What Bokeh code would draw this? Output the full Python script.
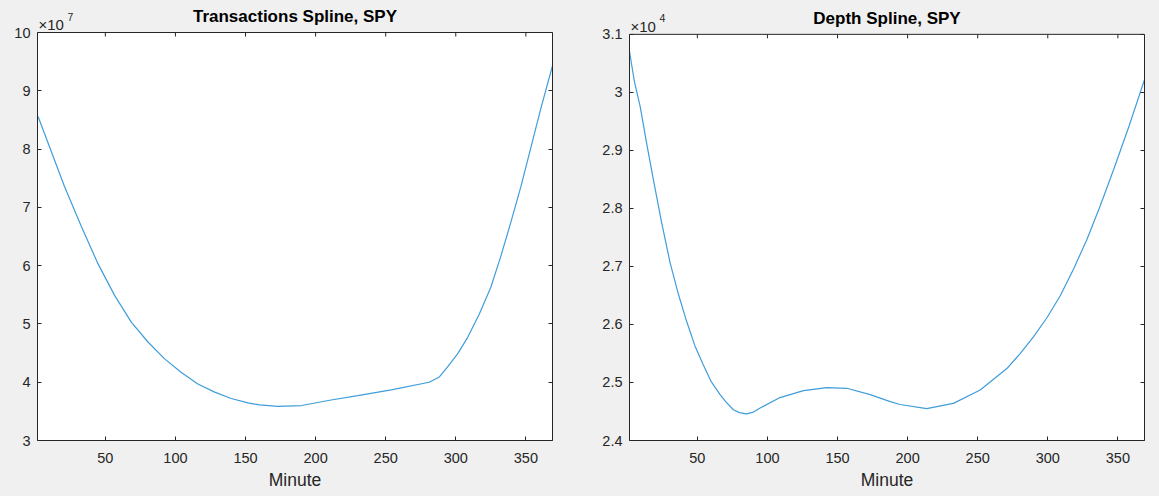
import math
from bokeh.plotting import figure
from bokeh.layouts import row
from bokeh.models import LinearAxis, FixedTicker, CustomJSTickFormatter, Range1d
from bokeh.core.properties import value
from bokeh.embed import file_html
from bokeh.resources import INLINE

# ---- data ----
trans_minute = [2, 21, 32.9, 44.8, 56.6, 68.5, 80.4, 92.3, 104, 116, 128, 139.8, 151.7, 160, 173, 190, 210, 230,
                254, 281, 288.3, 294, 301.4, 308.5, 316.8, 325, 332, 339, 346.4, 353.6, 360.6, 369]
trans_value = [8.56e7, 7.35e7, 6.67e7, 6.03e7, 5.49e7, 5.03e7, 4.69e7, 4.40e7, 4.17e7, 3.97e7, 3.83e7, 3.72e7,
               3.645e7, 3.61e7, 3.585e7, 3.60e7, 3.69e7, 3.77e7, 3.87e7, 4.00e7, 4.09e7, 4.26e7, 4.49e7,
               4.77e7, 5.17e7, 5.63e7, 6.15e7, 6.72e7, 7.35e7, 8.03e7, 8.69e7, 9.43e7]

depth_minute = [1.5, 5, 9.2, 14, 18.6, 24.5, 30.5, 36.5, 42.4, 48.3, 54.3, 60, 66.2, 70.5, 75.7, 80, 85, 90,
                94.8, 109, 125.7, 142.4, 156.6, 173.3, 187.6, 194.6, 213.6, 232.7, 251.8, 270.8, 280, 289.9,
                299.5, 309, 318.5, 328, 337.5, 347, 358, 369]
depth_value = [30720, 30200, 29760, 29100, 28500, 27760, 27070, 26520, 26050, 25630, 25300, 25010, 24790, 24660,
               24530, 24480, 24460, 24490, 24560, 24740, 24860, 24910, 24900, 24790, 24670, 24620, 24550, 24640,
               24870, 25240, 25490, 25790, 26120, 26500, 26960, 27470, 28050, 28670, 29420, 30220]

x_ticks = [50, 100, 150, 200, 250, 300, 350]
trans_y_ticks = [3e7, 4e7, 5e7, 6e7, 7e7, 8e7, 9e7, 1e8]
depth_y_ticks = [24000, 25000, 26000, 27000, 28000, 29000, 30000, 31000]

titles = ["Transactions Spline, SPY", "Depth Spline, SPY"]
exponents = ["7", "4"]
x_label = "Minute"
x_lim = (1.6, 369)

FONT = "Liberation Sans"
AX = "#262626"
BG = "#f0f0f0"
LINE = "#3f9ddb"


def style_axis(ax, show_labels):
    ax.axis_line_color = AX
    ax.major_tick_in = 4
    ax.major_tick_out = 0
    ax.major_tick_line_color = AX
    ax.minor_tick_line_color = None
    ax.major_label_text_font = FONT
    ax.major_label_text_font_size = "14.5px"
    ax.major_label_text_color = AX
    if not show_labels:
        ax.formatter = CustomJSTickFormatter(code="return '';")
        ax.major_label_standoff = 0


def make(xs, ys, y_ticks, ylim, scale, title, expo, width, borders, top_px, frame_px):
    bl, br, bb = borders
    y0, y1 = ylim
    # frame runs to the top of the canvas; the box itself ends at y1
    y_top = y1 + (y1 - y0) * top_px / frame_px
    p = figure(width=width, height=496, x_range=Range1d(*x_lim), y_range=Range1d(y0, y_top),
               output_backend="svg", toolbar_location=None,
               min_border_left=bl, min_border_right=br, min_border_top=0, min_border_bottom=bb)
    p.background_fill_color = BG
    p.border_fill_color = BG
    p.outline_line_color = None
    p.grid.visible = False

    # white axes box
    p.quad(left=[x_lim[0]], right=[x_lim[1]], bottom=[y0], top=[y1],
           fill_color="white", line_color=AX, line_width=1)

    xa = p.xaxis[0]
    xa.ticker = FixedTicker(ticks=x_ticks)
    style_axis(xa, True)
    xa.major_label_standoff = 12
    xa.axis_label = x_label
    xa.axis_label_text_font = FONT
    xa.axis_label_text_font_size = "17.5px"
    xa.axis_label_text_font_style = "normal"
    xa.axis_label_text_color = AX
    xa.axis_label_standoff = 4

    ya = p.yaxis[0]
    ya.ticker = FixedTicker(ticks=y_ticks)
    ya.bounds = (y0, y1)
    style_axis(ya, True)
    ya.major_label_standoff = 7
    ya.formatter = CustomJSTickFormatter(code="return String(Math.round(tick / %g * 10) / 10);" % scale)

    right = LinearAxis(ticker=FixedTicker(ticks=y_ticks), bounds=(y0, y1))
    style_axis(right, False)
    p.add_layout(right, "right")

    # inward ticks along the top edge of the box
    p.ray(x=x_ticks, y=[y1] * len(x_ticks), length=4, length_units="screen",
          angle=-math.pi / 2, line_color=AX, line_width=1)

    p.line(xs, ys, line_color=LINE, line_width=1.2)

    # title and exponent label above the box
    p.text(x=[(x_lim[0] + x_lim[1]) / 2], y=[y1], text=[title], y_offset=-16,
           text_font=value(FONT), text_font_size="17px", text_font_style="bold",
           text_color="#000000", text_align="center", text_baseline="alphabetic")
    p.text(x=[x_lim[0]], y=[y1], text=["\u00d710"], x_offset=1, y_offset=-8,
           text_font=value(FONT), text_font_size="15px", text_color=AX,
           text_align="left", text_baseline="alphabetic")
    p.text(x=[x_lim[0]], y=[y1], text=[expo], x_offset=30, y_offset=-16,
           text_font=value(FONT), text_font_size="10.5px", text_color=AX,
           text_align="left", text_baseline="alphabetic")
    return p


p1 = make(trans_minute, trans_value, trans_y_ticks, (3e7, 1e8), 1e7, titles[0], exponents[0],
          590, (37, 38, 56), 32, 408)
p2 = make(depth_minute, depth_value, depth_y_ticks, (24000, 31000), 1e4, titles[1], exponents[1],
          569, (39, 15, 54), 34, 408)

layout = row(p1, p2)
layout.styles = {"background-color": BG}
open("out.html", "w").write(file_html(layout, INLINE))
